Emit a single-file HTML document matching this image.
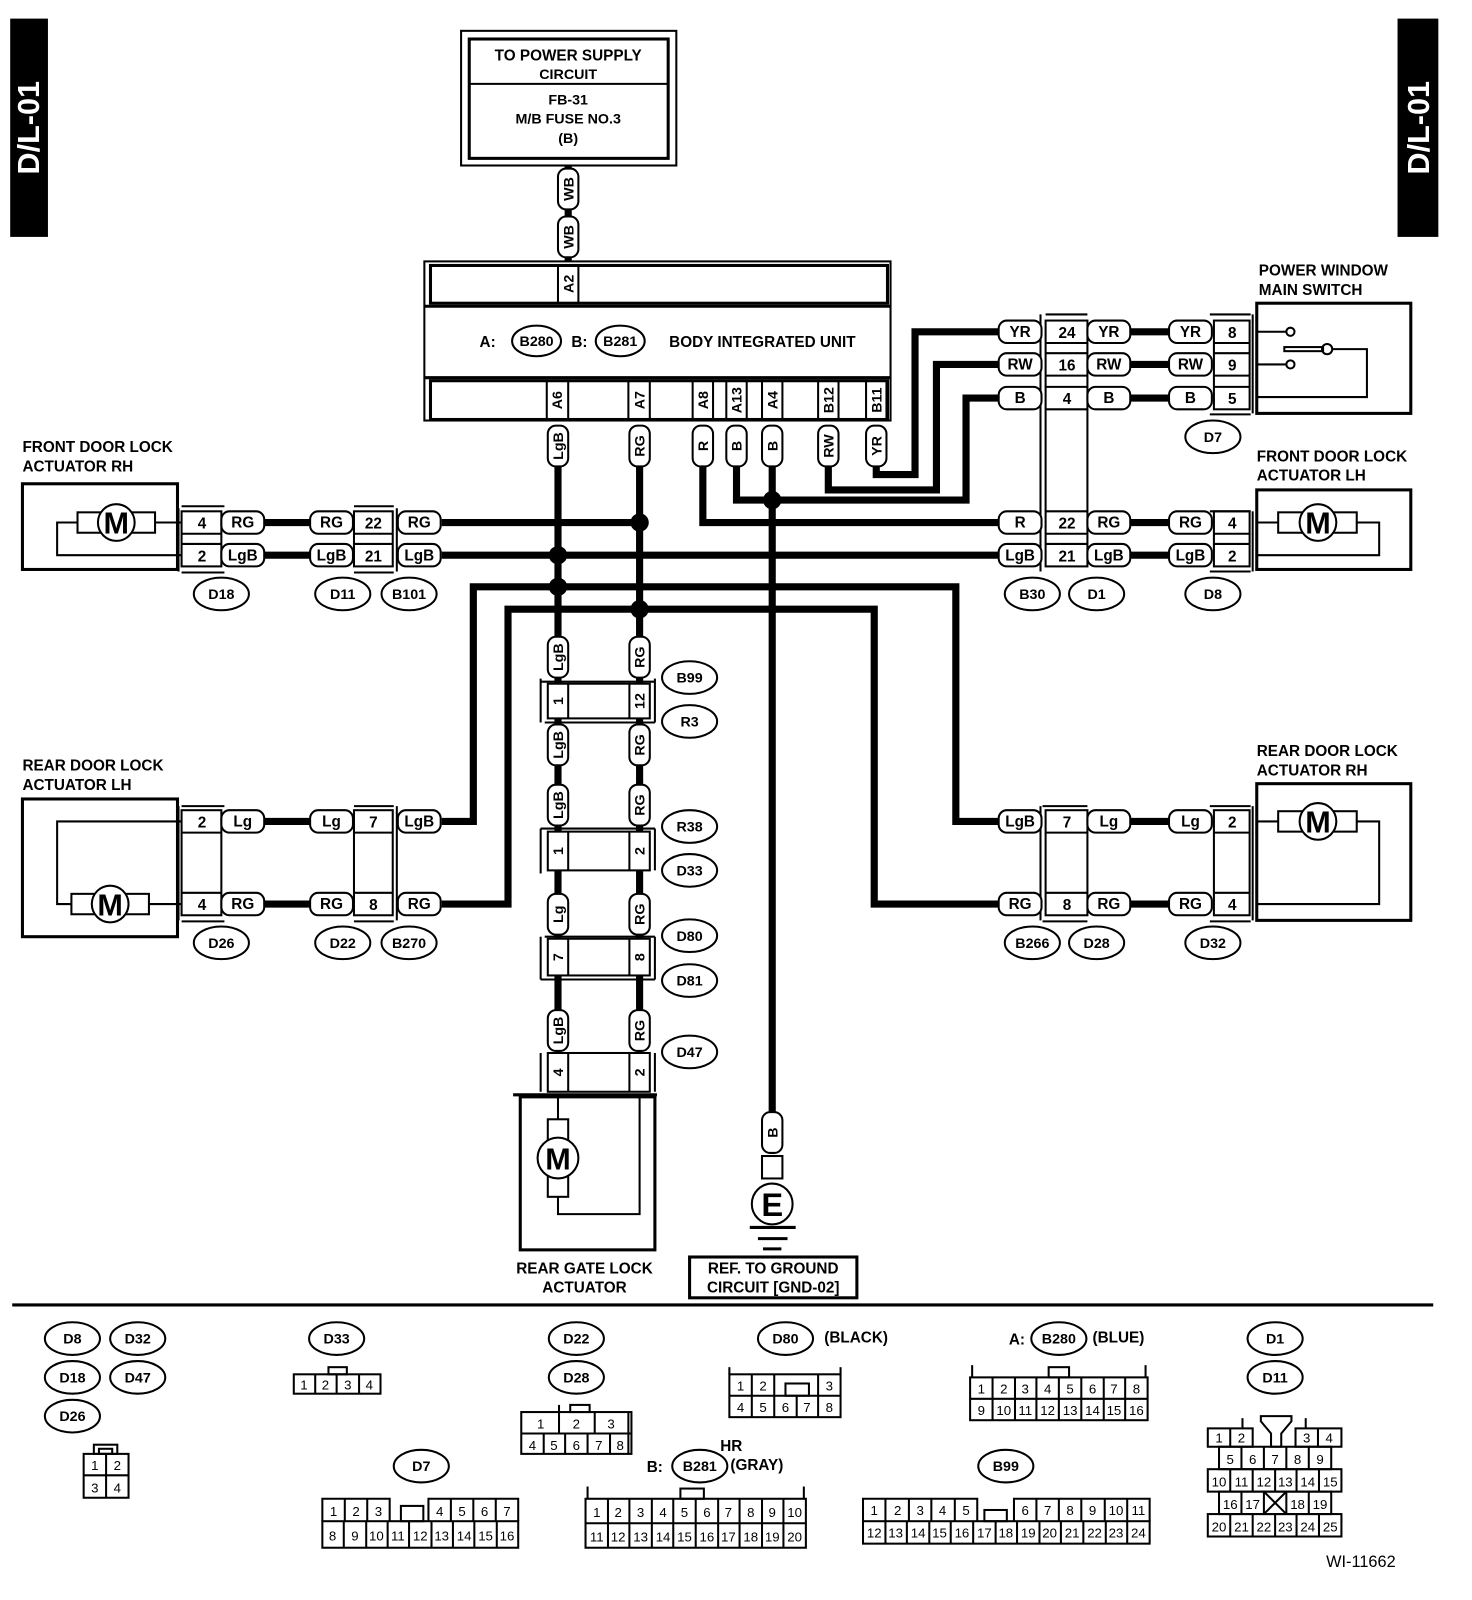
<!DOCTYPE html>
<html><head><meta charset="utf-8"><style>
html,body{margin:0;padding:0;background:#fff;}
svg{display:block}
text{font-family:"Liberation Sans",sans-serif;font-weight:bold;font-size:15px;text-anchor:middle;fill:#000}
.l{text-anchor:start}
.s{font-size:14px}
.sm{font-size:13px;font-weight:normal}
.w{stroke:#000;stroke-width:7;fill:none}
.t{stroke:#000;stroke-width:2;fill:none}
.t3{stroke:#000;stroke-width:3;fill:none}
.b{stroke:#000;stroke-width:2;fill:#fff}
</style></head><body>
<svg width="1472" height="1600" viewBox="0 0 1443 1568" xmlns="http://www.w3.org/2000/svg">
<defs>
<rect id="hp" x="-21" y="-11" width="42" height="22" rx="8" stroke="#000" stroke-width="2" fill="#fff"/>
<rect id="vp" x="-10" y="-20" width="20" height="40" rx="8" stroke="#000" stroke-width="2" fill="#fff"/>
<ellipse id="el" rx="27" ry="16" stroke="#000" stroke-width="2" fill="#fff"/>
</defs>

<!-- side tabs -->
<rect x="10" y="18" width="37" height="214" fill="#000"/>
<text transform="translate(38,125) rotate(-90)" style="fill:#fff;font-size:30px">D/L-01</text>
<rect x="1370" y="18" width="40" height="214" fill="#000"/>
<text transform="translate(1401,125) rotate(-90)" style="fill:#fff;font-size:30px">D/L-01</text>

<!-- power supply box -->
<rect x="452" y="30" width="211" height="132" class="t"/>
<rect x="460" y="38" width="195" height="117" class="t3"/>
<line x1="460" y1="82" x2="655" y2="82" class="t"/>
<text x="557" y="59">TO POWER SUPPLY</text>
<text x="557" y="77" class="s">CIRCUIT</text>
<text x="557" y="102" class="s">FB-31</text>
<text x="557" y="121" class="s">M/B FUSE NO.3</text>
<text x="557" y="140" class="s">(B)</text>
<line x1="557" y1="162" x2="557" y2="256" class="w"/>
<use href="#vp" x="557" y="185"/><text transform="translate(557,185) rotate(-90)" y="5" class="s">WB</text>
<use href="#vp" x="557" y="232"/><text transform="translate(557,232) rotate(-90)" y="5" class="s">WB</text>

<!-- body integrated unit -->
<rect x="416" y="256" width="457" height="156" class="t"/>
<rect x="422" y="260" width="448" height="37" class="t3"/>
<line x1="416" y1="300" x2="873" y2="300" class="t3"/>
<line x1="416" y1="370" x2="873" y2="370" class="t3"/>
<rect x="422" y="373" width="448" height="38" class="t3"/>
<line x1="547" y1="260" x2="547" y2="297" class="t"/><line x1="567" y1="260" x2="567" y2="297" class="t"/>
<text transform="translate(557,278) rotate(-90)" y="5" class="s">A2</text>
<text x="478" y="340">A:</text>
<ellipse cx="526" cy="334" rx="24" ry="15" class="b"/><text x="526" y="339" class="s">B280</text>
<text x="568" y="340">B:</text>
<ellipse cx="608" cy="334" rx="24" ry="15" class="b"/><text x="608" y="339" class="s">B281</text>
<text x="656" y="340" class="l">BODY INTEGRATED UNIT</text>
<g class="t">
<line x1="536" y1="373" x2="536" y2="411"/><line x1="557" y1="373" x2="557" y2="411"/>
<line x1="616" y1="373" x2="616" y2="411"/><line x1="637" y1="373" x2="637" y2="411"/>
<line x1="679" y1="373" x2="679" y2="411"/><line x1="699" y1="373" x2="699" y2="411"/>
<line x1="712" y1="373" x2="712" y2="411"/><line x1="732" y1="373" x2="732" y2="411"/>
<line x1="747" y1="373" x2="747" y2="411"/><line x1="767" y1="373" x2="767" y2="411"/>
<line x1="802" y1="373" x2="802" y2="411"/><line x1="822" y1="373" x2="822" y2="411"/>
<line x1="849" y1="373" x2="849" y2="411"/><line x1="869" y1="373" x2="869" y2="411"/>
</g>
<text transform="translate(546,392) rotate(-90)" y="5" class="s">A6</text>
<text transform="translate(627,392) rotate(-90)" y="5" class="s">A7</text>
<text transform="translate(689,392) rotate(-90)" y="5" class="s">A8</text>
<text transform="translate(722,392) rotate(-90)" y="5" class="s">A13</text>
<text transform="translate(757,392) rotate(-90)" y="5" class="s">A4</text>
<text transform="translate(812,392) rotate(-90)" y="5" class="s">B12</text>
<text transform="translate(859,392) rotate(-90)" y="5" class="s">B11</text>

<!-- thick wires -->
<g class="w">
<polyline points="547,455 547,625"/>
<polyline points="627,455 627,625"/>
<polyline points="689,455 689,512 980,512"/>
<polyline points="722,455 722,490 947,490 947,390 980,390"/>
<polyline points="757,455 757,1090"/>
<polyline points="812,455 812,480 918,480 918,357 980,357"/>
<polyline points="859,455 859,465 897,465 897,325 980,325"/>
<polyline points="433,512 627,512"/>
<polyline points="433,544 980,544"/>
<polyline points="433,805 464,805 464,575 937,575 937,805 980,805"/>
<polyline points="433,886 498,886 498,597 857,597 857,886 980,886"/>
<line x1="1107" y1="325" x2="1146" y2="325"/><line x1="1107" y1="357" x2="1146" y2="357"/><line x1="1107" y1="390" x2="1146" y2="390"/>
<line x1="1107" y1="512" x2="1146" y2="512"/><line x1="1107" y1="544" x2="1146" y2="544"/>
<line x1="1107" y1="805" x2="1146" y2="805"/><line x1="1107" y1="886" x2="1146" y2="886"/>
<line x1="259" y1="512" x2="304" y2="512"/><line x1="259" y1="544" x2="304" y2="544"/>
<line x1="259" y1="805" x2="304" y2="805"/><line x1="259" y1="886" x2="304" y2="886"/>
<line x1="547" y1="662" x2="547" y2="1030"/><line x1="627" y1="662" x2="627" y2="1030"/>
</g>
<g fill="#000">
<circle cx="547" cy="544" r="9"/><circle cx="547" cy="575" r="9"/>
<circle cx="627" cy="512" r="9"/><circle cx="627" cy="597" r="9"/>
<circle cx="757" cy="490" r="9"/>
</g>
<use href="#vp" x="547" y="437"/><text transform="translate(547,437) rotate(-90)" y="5" class="s">LgB</text>
<use href="#vp" x="627" y="437"/><text transform="translate(627,437) rotate(-90)" y="5" class="s">RG</text>
<use href="#vp" x="689" y="437"/><text transform="translate(689,437) rotate(-90)" y="5" class="s">R</text>
<use href="#vp" x="722" y="437"/><text transform="translate(722,437) rotate(-90)" y="5" class="s">B</text>
<use href="#vp" x="757" y="437"/><text transform="translate(757,437) rotate(-90)" y="5" class="s">B</text>
<use href="#vp" x="812" y="437"/><text transform="translate(812,437) rotate(-90)" y="5" class="s">RW</text>
<use href="#vp" x="859" y="437"/><text transform="translate(859,437) rotate(-90)" y="5" class="s">YR</text>

<!-- right connector B30/D1 -->
<g class="t">
<line x1="1020" y1="308" x2="1020" y2="560"/><line x1="1025" y1="308" x2="1066" y2="308"/>
<rect x="1025" y="314" width="41" height="241"/>
<line x1="1025" y1="336" x2="1066" y2="336"/><line x1="1025" y1="346" x2="1066" y2="346"/>
<line x1="1025" y1="368" x2="1066" y2="368"/><line x1="1025" y1="379" x2="1066" y2="379"/>
<line x1="1025" y1="401" x2="1066" y2="401"/><line x1="1025" y1="501" x2="1066" y2="501"/>
<line x1="1025" y1="523" x2="1066" y2="523"/><line x1="1025" y1="533" x2="1066" y2="533"/>
</g>
<text x="1046" y="331">24</text><text x="1046" y="363">16</text><text x="1046" y="396">4</text>
<text x="1046" y="518">22</text><text x="1046" y="550">21</text>
<use href="#hp" x="1000" y="325"/><text x="1000" y="330">YR</text>
<use href="#hp" x="1000" y="357"/><text x="1000" y="362">RW</text>
<use href="#hp" x="1000" y="390"/><text x="1000" y="395">B</text>
<use href="#hp" x="1000" y="512"/><text x="1000" y="517">R</text>
<use href="#hp" x="1000" y="544"/><text x="1000" y="549">LgB</text>
<use href="#hp" x="1087" y="325"/><text x="1087" y="330">YR</text>
<use href="#hp" x="1087" y="357"/><text x="1087" y="362">RW</text>
<use href="#hp" x="1087" y="390"/><text x="1087" y="395">B</text>
<use href="#hp" x="1087" y="512"/><text x="1087" y="517">RG</text>
<use href="#hp" x="1087" y="544"/><text x="1087" y="549">LgB</text>
<use href="#hp" x="1167" y="325"/><text x="1167" y="330">YR</text>
<use href="#hp" x="1167" y="357"/><text x="1167" y="362">RW</text>
<use href="#hp" x="1167" y="390"/><text x="1167" y="395">B</text>
<use href="#hp" x="1167" y="512"/><text x="1167" y="517">RG</text>
<use href="#hp" x="1167" y="544"/><text x="1167" y="549">LgB</text>
<g class="t">
<line x1="1186" y1="308" x2="1226" y2="308"/><line x1="1228" y1="308" x2="1228" y2="405"/>
<rect x="1190" y="314" width="35" height="87"/>
<line x1="1190" y1="336" x2="1225" y2="336"/><line x1="1190" y1="346" x2="1225" y2="346"/>
<line x1="1190" y1="368" x2="1225" y2="368"/><line x1="1190" y1="379" x2="1225" y2="379"/>
<line x1="1186" y1="406" x2="1226" y2="406"/>
</g>
<text x="1208" y="331">8</text><text x="1208" y="363">9</text><text x="1208" y="396">5</text>
<rect x="1232" y="297" width="151" height="108" class="t3"/>
<g class="t">
<line x1="1232" y1="325" x2="1261" y2="325"/><circle cx="1265" cy="325" r="4"/>
<line x1="1232" y1="357" x2="1261" y2="357"/><circle cx="1265" cy="357" r="4"/>
<rect x="1259" y="340" width="38" height="4" fill="#fff"/><circle cx="1301" cy="342" r="5"/>
<polyline points="1306,342 1340,342 1340,389 1232,389"/>
</g>
<text x="1234" y="270" class="l">POWER WINDOW</text>
<text x="1234" y="289" class="l">MAIN SWITCH</text>
<use href="#el" x="1189" y="428"/><text x="1189" y="433" class="s">D7</text>

<!-- front door lock LH -->
<g class="t">
<line x1="1186" y1="501" x2="1226" y2="501"/><line x1="1228" y1="501" x2="1228" y2="560"/>
<rect x="1190" y="501" width="35" height="54"/>
<line x1="1190" y1="523" x2="1225" y2="523"/><line x1="1190" y1="533" x2="1225" y2="533"/>
<line x1="1186" y1="560" x2="1226" y2="560"/>
</g>
<text x="1208" y="518">4</text><text x="1208" y="550">2</text>
<rect x="1232" y="480" width="151" height="78" class="t3"/>
<g class="t"><line x1="1232" y1="512" x2="1253" y2="512"/><polyline points="1330,512 1352,512 1352,544 1232,544"/></g>
<rect x="1253" y="502" width="77" height="20" class="b"/><circle cx="1292" cy="512" r="18" class="b"/><text x="1292" y="523" style="font-size:30px">M</text>
<text x="1232" y="452" class="l">FRONT DOOR LOCK</text>
<text x="1232" y="471" class="l">ACTUATOR LH</text>
<use href="#el" x="1012" y="582"/><text x="1012" y="587" class="s">B30</text>
<use href="#el" x="1075" y="582"/><text x="1075" y="587" class="s">D1</text>
<use href="#el" x="1189" y="582"/><text x="1189" y="587" class="s">D8</text>

<!-- front door lock RH -->
<rect x="22" y="474" width="152" height="84" class="t3"/>
<g class="t"><line x1="152" y1="512" x2="178" y2="512"/><polyline points="76,512 56,512 56,544 178,544"/></g>
<rect x="76" y="502" width="76" height="20" class="b"/><circle cx="114" cy="512" r="18" class="b"/><text x="114" y="523" style="font-size:30px">M</text>
<text x="22" y="443" class="l">FRONT DOOR LOCK</text>
<text x="22" y="462" class="l">ACTUATOR RH</text>
<g class="t">
<line x1="175" y1="498" x2="175" y2="560"/><line x1="178" y1="496" x2="220" y2="496"/><line x1="178" y1="561" x2="220" y2="561"/>
<rect x="178" y="501" width="39" height="54"/>
<line x1="178" y1="523" x2="217" y2="523"/><line x1="178" y1="533" x2="217" y2="533"/>
<line x1="347" y1="496" x2="386" y2="496"/><line x1="389" y1="498" x2="389" y2="560"/><line x1="347" y1="561" x2="386" y2="561"/>
<rect x="347" y="501" width="38" height="54"/>
<line x1="347" y1="523" x2="385" y2="523"/><line x1="347" y1="533" x2="385" y2="533"/>
</g>
<text x="198" y="518">4</text><text x="198" y="550">2</text>
<text x="366" y="518">22</text><text x="366" y="550">21</text>
<use href="#hp" x="238" y="512"/><text x="238" y="517">RG</text>
<use href="#hp" x="238" y="544"/><text x="238" y="549">LgB</text>
<use href="#hp" x="325" y="512"/><text x="325" y="517">RG</text>
<use href="#hp" x="325" y="544"/><text x="325" y="549">LgB</text>
<use href="#hp" x="411" y="512"/><text x="411" y="517">RG</text>
<use href="#hp" x="411" y="544"/><text x="411" y="549">LgB</text>
<use href="#el" x="217" y="582"/><text x="217" y="587" class="s">D18</text>
<use href="#el" x="336" y="582"/><text x="336" y="587" class="s">D11</text>
<use href="#el" x="401" y="582"/><text x="401" y="587" class="s">B101</text>

<!-- rear door lock LH -->
<rect x="22" y="783" width="152" height="135" class="t3"/>
<g class="t"><line x1="146" y1="886" x2="178" y2="886"/><polyline points="70,886 56,886 56,805 178,805"/></g>
<rect x="70" y="876" width="76" height="20" class="b"/><circle cx="108" cy="886" r="18" class="b"/><text x="108" y="897" style="font-size:30px">M</text>
<text x="22" y="755" class="l">REAR DOOR LOCK</text>
<text x="22" y="774" class="l">ACTUATOR LH</text>
<g class="t">
<line x1="175" y1="790" x2="175" y2="902"/><line x1="178" y1="790" x2="220" y2="790"/><line x1="178" y1="903" x2="220" y2="903"/>
<rect x="178" y="794" width="39" height="103"/>
<line x1="178" y1="816" x2="217" y2="816"/><line x1="178" y1="875" x2="217" y2="875"/>
<line x1="347" y1="790" x2="386" y2="790"/><line x1="389" y1="790" x2="389" y2="902"/><line x1="347" y1="903" x2="386" y2="903"/>
<rect x="347" y="794" width="38" height="103"/>
<line x1="347" y1="816" x2="385" y2="816"/><line x1="347" y1="875" x2="385" y2="875"/>
</g>
<text x="198" y="811">2</text><text x="198" y="892">4</text>
<text x="366" y="811">7</text><text x="366" y="892">8</text>
<use href="#hp" x="238" y="805"/><text x="238" y="810">Lg</text>
<use href="#hp" x="238" y="886"/><text x="238" y="891">RG</text>
<use href="#hp" x="325" y="805"/><text x="325" y="810">Lg</text>
<use href="#hp" x="325" y="886"/><text x="325" y="891">RG</text>
<use href="#hp" x="411" y="805"/><text x="411" y="810">LgB</text>
<use href="#hp" x="411" y="886"/><text x="411" y="891">RG</text>
<use href="#el" x="217" y="924"/><text x="217" y="929" class="s">D26</text>
<use href="#el" x="336" y="924"/><text x="336" y="929" class="s">D22</text>
<use href="#el" x="401" y="924"/><text x="401" y="929" class="s">B270</text>

<!-- rear door lock RH -->
<g class="t">
<line x1="1020" y1="790" x2="1020" y2="902"/><line x1="1022" y1="790" x2="1066" y2="790"/><line x1="1022" y1="903" x2="1066" y2="903"/>
<rect x="1025" y="794" width="41" height="103"/>
<line x1="1025" y1="816" x2="1066" y2="816"/><line x1="1025" y1="875" x2="1066" y2="875"/>
<line x1="1186" y1="790" x2="1226" y2="790"/><line x1="1228" y1="790" x2="1228" y2="902"/><line x1="1186" y1="903" x2="1226" y2="903"/>
<rect x="1190" y="794" width="35" height="103"/>
<line x1="1190" y1="816" x2="1225" y2="816"/><line x1="1190" y1="875" x2="1225" y2="875"/>
</g>
<text x="1046" y="811">7</text><text x="1046" y="892">8</text>
<text x="1208" y="811">2</text><text x="1208" y="892">4</text>
<use href="#hp" x="1000" y="805"/><text x="1000" y="810">LgB</text>
<use href="#hp" x="1000" y="886"/><text x="1000" y="891">RG</text>
<use href="#hp" x="1087" y="805"/><text x="1087" y="810">Lg</text>
<use href="#hp" x="1087" y="886"/><text x="1087" y="891">RG</text>
<use href="#hp" x="1167" y="805"/><text x="1167" y="810">Lg</text>
<use href="#hp" x="1167" y="886"/><text x="1167" y="891">RG</text>
<rect x="1232" y="768" width="151" height="134" class="t3"/>
<g class="t"><line x1="1232" y1="805" x2="1253" y2="805"/><polyline points="1330,805 1352,805 1352,886 1232,886"/></g>
<rect x="1253" y="795" width="77" height="20" class="b"/><circle cx="1292" cy="805" r="18" class="b"/><text x="1292" y="816" style="font-size:30px">M</text>
<text x="1232" y="741" class="l">REAR DOOR LOCK</text>
<text x="1232" y="760" class="l">ACTUATOR RH</text>
<use href="#el" x="1012" y="924"/><text x="1012" y="929" class="s">B266</text>
<use href="#el" x="1075" y="924"/><text x="1075" y="929" class="s">D28</text>
<use href="#el" x="1189" y="924"/><text x="1189" y="929" class="s">D32</text>

<!-- central column connectors -->
<g class="t">
<line x1="530" y1="665" x2="530" y2="708"/><line x1="530" y1="668" x2="642" y2="668"/><line x1="534" y1="708" x2="642" y2="708"/><line x1="642" y1="665" x2="642" y2="708"/>
<rect x="537" y="670" width="100" height="34" fill="#fff"/><line x1="557" y1="670" x2="557" y2="704"/><line x1="617" y1="670" x2="617" y2="704"/>
<line x1="530" y1="812" x2="642" y2="812"/><line x1="642" y1="812" x2="642" y2="853"/><line x1="530" y1="812" x2="530" y2="856"/>
<rect x="537" y="815" width="100" height="38" fill="#fff"/><line x1="557" y1="815" x2="557" y2="853"/><line x1="617" y1="815" x2="617" y2="853"/>
<line x1="530" y1="918" x2="530" y2="960"/><line x1="530" y1="960" x2="642" y2="960"/><line x1="642" y1="918" x2="642" y2="960"/><line x1="534" y1="918" x2="642" y2="918"/>
<rect x="537" y="920" width="100" height="36" fill="#fff"/><line x1="557" y1="920" x2="557" y2="956"/><line x1="617" y1="920" x2="617" y2="956"/>
<line x1="530" y1="1032" x2="530" y2="1070"/><line x1="642" y1="1032" x2="642" y2="1070"/>
<rect x="537" y="1032" width="100" height="38" fill="#fff"/><line x1="557" y1="1032" x2="557" y2="1070"/><line x1="617" y1="1032" x2="617" y2="1070"/>
</g>
<text transform="translate(547,687) rotate(-90)" y="5" class="s">1</text>
<text transform="translate(627,687) rotate(-90)" y="5" class="s">12</text>
<text transform="translate(547,834) rotate(-90)" y="5" class="s">1</text>
<text transform="translate(627,834) rotate(-90)" y="5" class="s">2</text>
<text transform="translate(547,938) rotate(-90)" y="5" class="s">7</text>
<text transform="translate(627,938) rotate(-90)" y="5" class="s">8</text>
<text transform="translate(547,1051) rotate(-90)" y="5" class="s">4</text>
<text transform="translate(627,1051) rotate(-90)" y="5" class="s">2</text>
<use href="#vp" x="547" y="644"/><text transform="translate(547,644) rotate(-90)" y="5" class="s">LgB</text>
<use href="#vp" x="627" y="644"/><text transform="translate(627,644) rotate(-90)" y="5" class="s">RG</text>
<use href="#vp" x="547" y="730"/><text transform="translate(547,730) rotate(-90)" y="5" class="s">LgB</text>
<use href="#vp" x="627" y="730"/><text transform="translate(627,730) rotate(-90)" y="5" class="s">RG</text>
<use href="#vp" x="547" y="789"/><text transform="translate(547,789) rotate(-90)" y="5" class="s">LgB</text>
<use href="#vp" x="627" y="789"/><text transform="translate(627,789) rotate(-90)" y="5" class="s">RG</text>
<use href="#vp" x="547" y="896"/><text transform="translate(547,896) rotate(-90)" y="5" class="s">Lg</text>
<use href="#vp" x="627" y="896"/><text transform="translate(627,896) rotate(-90)" y="5" class="s">RG</text>
<use href="#vp" x="547" y="1010"/><text transform="translate(547,1010) rotate(-90)" y="5" class="s">LgB</text>
<use href="#vp" x="627" y="1010"/><text transform="translate(627,1010) rotate(-90)" y="5" class="s">RG</text>
<use href="#el" x="676" y="664"/><text x="676" y="669" class="s">B99</text>
<use href="#el" x="676" y="707"/><text x="676" y="712" class="s">R3</text>
<use href="#el" x="676" y="810"/><text x="676" y="815" class="s">R38</text>
<use href="#el" x="676" y="853"/><text x="676" y="858" class="s">D33</text>
<use href="#el" x="676" y="917"/><text x="676" y="922" class="s">D80</text>
<use href="#el" x="676" y="961"/><text x="676" y="966" class="s">D81</text>
<use href="#el" x="676" y="1031"/><text x="676" y="1036" class="s">D47</text>

<!-- rear gate -->
<rect x="510" y="1075" width="132" height="150" class="t3"/>
<line x1="503" y1="1073" x2="644" y2="1073" class="t3"/>
<g class="t"><line x1="547" y1="1075" x2="547" y2="1097"/><polyline points="547,1173 547,1190 627,1190 627,1075"/></g>
<rect x="537" y="1097" width="20" height="76" class="b"/><circle cx="547" cy="1135" r="20" class="b"/><text x="547" y="1146" style="font-size:30px">M</text>
<text x="573" y="1248">REAR GATE LOCK</text>
<text x="573" y="1267">ACTUATOR</text>

<!-- ground -->
<use href="#vp" x="757" y="1110"/><text transform="translate(757,1110) rotate(-90)" y="5" class="s">B</text>
<rect x="747" y="1133" width="20" height="22" class="t"/>
<circle cx="757" cy="1180" r="20" class="t"/><text x="757" y="1192" style="font-size:32px">E</text>
<g class="t3"><line x1="735" y1="1203" x2="780" y2="1203"/><line x1="743" y1="1214" x2="772" y2="1214"/><line x1="748" y1="1224" x2="766" y2="1224"/></g>
<rect x="676" y="1232" width="164" height="40" class="t3"/>
<text x="758" y="1248">REF. TO GROUND</text>
<text x="758" y="1267">CIRCUIT [GND-02]</text>

<line x1="12" y1="1279" x2="1405" y2="1279" stroke="#000" stroke-width="3"/>

<!-- legend ellipses -->
<use href="#el" x="71" y="1312"/><text x="71" y="1317" class="s">D8</text>
<use href="#el" x="135" y="1312"/><text x="135" y="1317" class="s">D32</text>
<use href="#el" x="71" y="1350"/><text x="71" y="1355" class="s">D18</text>
<use href="#el" x="135" y="1350"/><text x="135" y="1355" class="s">D47</text>
<use href="#el" x="71" y="1388"/><text x="71" y="1393" class="s">D26</text>
<use href="#el" x="330" y="1312"/><text x="330" y="1317" class="s">D33</text>
<use href="#el" x="565" y="1312"/><text x="565" y="1317" class="s">D22</text>
<use href="#el" x="565" y="1350"/><text x="565" y="1355" class="s">D28</text>
<use href="#el" x="770" y="1312"/><text x="770" y="1317" class="s">D80</text>
<text x="808" y="1316" class="l">(BLACK)</text>
<text x="989" y="1318" class="l">A:</text>
<use href="#el" x="1038" y="1312"/><text x="1038" y="1317" class="s">B280</text>
<text x="1071" y="1316" class="l">(BLUE)</text>
<use href="#el" x="1250" y="1312"/><text x="1250" y="1317" class="s">D1</text>
<use href="#el" x="1250" y="1350"/><text x="1250" y="1355" class="s">D11</text>
<use href="#el" x="413" y="1437"/><text x="413" y="1442" class="s">D7</text>
<text x="634" y="1443" class="l">B:</text>
<use href="#el" x="686" y="1437"/><text x="686" y="1442" class="s">B281</text>
<text x="706" y="1422" class="l">HR</text>
<text x="716" y="1441" class="l">(GRAY)</text>
<use href="#el" x="986" y="1437"/><text x="986" y="1442" class="s">B99</text>
<text x="1300" y="1536" class="l sm" style="font-size:16px">WI-11662</text>

<!-- legend connectors -->
<g class="t">
<rect x="82" y="1425" width="44" height="43"/><line x1="104" y1="1425" x2="104" y2="1468"/><line x1="82" y1="1446" x2="126" y2="1446"/>
<rect x="92" y="1416" width="23" height="9"/><rect x="97" y="1420" width="13" height="5"/>
<rect x="288" y="1347" width="85" height="19"/><line x1="309" y1="1347" x2="309" y2="1366"/><line x1="330" y1="1347" x2="330" y2="1366"/><line x1="352" y1="1347" x2="352" y2="1366"/>
<rect x="322" y="1340" width="18" height="7"/>
<rect x="511" y="1384" width="108" height="41"/><line x1="511" y1="1405" x2="619" y2="1405"/>
<line x1="548" y1="1384" x2="548" y2="1405"/><line x1="583" y1="1384" x2="583" y2="1405"/>
<line x1="533" y1="1405" x2="533" y2="1425"/><line x1="554" y1="1405" x2="554" y2="1425"/><line x1="576" y1="1405" x2="576" y2="1425"/><line x1="598" y1="1405" x2="598" y2="1425"/>
<rect x="559" y="1377" width="19" height="7"/><line x1="548" y1="1377" x2="548" y2="1384"/><line x1="616" y1="1384" x2="616" y2="1425"/>
<rect x="715" y="1347" width="109" height="42"/><line x1="715" y1="1368" x2="824" y2="1368"/>
<line x1="737" y1="1347" x2="737" y2="1389"/><line x1="759" y1="1347" x2="759" y2="1389"/><line x1="781" y1="1368" x2="781" y2="1389"/><line x1="802" y1="1347" x2="802" y2="1389"/>
<rect x="770" y="1356" width="23" height="12"/><line x1="715" y1="1340" x2="715" y2="1347"/><line x1="824" y1="1340" x2="824" y2="1347"/>
<rect x="951" y="1350" width="174" height="42"/><line x1="951" y1="1371" x2="1125" y2="1371"/>
<line x1="973" y1="1350" x2="973" y2="1392"/><line x1="995" y1="1350" x2="995" y2="1392"/><line x1="1016" y1="1350" x2="1016" y2="1392"/><line x1="1038" y1="1350" x2="1038" y2="1392"/><line x1="1060" y1="1350" x2="1060" y2="1392"/><line x1="1082" y1="1350" x2="1082" y2="1392"/><line x1="1103" y1="1350" x2="1103" y2="1392"/>
<rect x="1028" y="1340" width="20" height="10"/><line x1="953" y1="1338" x2="953" y2="1350"/><line x1="1123" y1="1338" x2="1123" y2="1350"/>
<polyline points="316,1491 316,1469 382,1469 382,1491"/><polyline points="420,1491 420,1469 508,1469 508,1491"/>
<rect x="316" y="1491" width="192" height="26"/>
<line x1="338" y1="1469" x2="338" y2="1491"/><line x1="360" y1="1469" x2="360" y2="1491"/><line x1="442" y1="1469" x2="442" y2="1491"/><line x1="464" y1="1469" x2="464" y2="1491"/><line x1="486" y1="1469" x2="486" y2="1491"/>
<rect x="393" y="1476" width="22" height="15"/>
<line x1="337" y1="1491" x2="337" y2="1517"/><line x1="359" y1="1491" x2="359" y2="1517"/><line x1="380" y1="1491" x2="380" y2="1517"/><line x1="401" y1="1491" x2="401" y2="1517"/><line x1="423" y1="1491" x2="423" y2="1517"/><line x1="444" y1="1491" x2="444" y2="1517"/><line x1="465" y1="1491" x2="465" y2="1517"/><line x1="487" y1="1491" x2="487" y2="1517"/>
<rect x="574" y="1469" width="216" height="48"/><line x1="574" y1="1493" x2="790" y2="1493"/>
<line x1="596" y1="1469" x2="596" y2="1517"/><line x1="617" y1="1469" x2="617" y2="1517"/><line x1="639" y1="1469" x2="639" y2="1517"/><line x1="660" y1="1469" x2="660" y2="1517"/><line x1="682" y1="1469" x2="682" y2="1517"/><line x1="704" y1="1469" x2="704" y2="1517"/><line x1="725" y1="1469" x2="725" y2="1517"/><line x1="747" y1="1469" x2="747" y2="1517"/><line x1="768" y1="1469" x2="768" y2="1517"/>
<rect x="667" y="1459" width="23" height="10"/><line x1="576" y1="1457" x2="576" y2="1469"/><line x1="788" y1="1457" x2="788" y2="1469"/>
<polyline points="846,1491 846,1469 958,1469 958,1491"/><polyline points="994,1491 994,1469 1127,1469 1127,1491"/>
<rect x="846" y="1491" width="281" height="22"/>
<line x1="868" y1="1469" x2="868" y2="1491"/><line x1="891" y1="1469" x2="891" y2="1491"/><line x1="913" y1="1469" x2="913" y2="1491"/><line x1="936" y1="1469" x2="936" y2="1491"/>
<line x1="1016" y1="1469" x2="1016" y2="1491"/><line x1="1038" y1="1469" x2="1038" y2="1491"/><line x1="1060" y1="1469" x2="1060" y2="1491"/><line x1="1083" y1="1469" x2="1083" y2="1491"/><line x1="1105" y1="1469" x2="1105" y2="1491"/>
<rect x="965" y="1480" width="22" height="11"/>
<line x1="868" y1="1491" x2="868" y2="1513"/><line x1="889" y1="1491" x2="889" y2="1513"/><line x1="911" y1="1491" x2="911" y2="1513"/><line x1="932" y1="1491" x2="932" y2="1513"/><line x1="954" y1="1491" x2="954" y2="1513"/><line x1="976" y1="1491" x2="976" y2="1513"/><line x1="997" y1="1491" x2="997" y2="1513"/><line x1="1019" y1="1491" x2="1019" y2="1513"/><line x1="1040" y1="1491" x2="1040" y2="1513"/><line x1="1062" y1="1491" x2="1062" y2="1513"/><line x1="1084" y1="1491" x2="1084" y2="1513"/><line x1="1105" y1="1491" x2="1105" y2="1513"/>
<rect x="1184" y="1400" width="44" height="18"/><line x1="1206" y1="1400" x2="1206" y2="1418"/>
<rect x="1270" y="1400" width="45" height="18"/><line x1="1292" y1="1400" x2="1292" y2="1418"/>
<polygon points="1236,1388 1266,1388 1266,1393 1256,1405 1256,1418 1246,1418 1246,1405 1236,1393"/>
<rect x="1195" y="1418" width="110" height="22"/><line x1="1217" y1="1418" x2="1217" y2="1440"/><line x1="1239" y1="1418" x2="1239" y2="1440"/><line x1="1261" y1="1418" x2="1261" y2="1440"/><line x1="1283" y1="1418" x2="1283" y2="1440"/>
<rect x="1184" y="1440" width="131" height="22"/><line x1="1206" y1="1440" x2="1206" y2="1462"/><line x1="1228" y1="1440" x2="1228" y2="1462"/><line x1="1250" y1="1440" x2="1250" y2="1462"/><line x1="1271" y1="1440" x2="1271" y2="1462"/><line x1="1293" y1="1440" x2="1293" y2="1462"/>
<rect x="1195" y="1462" width="110" height="22"/><line x1="1217" y1="1462" x2="1217" y2="1484"/><line x1="1239" y1="1462" x2="1239" y2="1484"/><line x1="1261" y1="1462" x2="1261" y2="1484"/><line x1="1283" y1="1462" x2="1283" y2="1484"/>
<line x1="1239" y1="1462" x2="1261" y2="1484"/><line x1="1261" y1="1462" x2="1239" y2="1484"/>
<rect x="1184" y="1484" width="131" height="22"/><line x1="1206" y1="1484" x2="1206" y2="1506"/><line x1="1228" y1="1484" x2="1228" y2="1506"/><line x1="1250" y1="1484" x2="1250" y2="1506"/><line x1="1271" y1="1484" x2="1271" y2="1506"/><line x1="1293" y1="1484" x2="1293" y2="1506"/>
<line x1="1218" y1="1390" x2="1218" y2="1400"/><line x1="1280" y1="1390" x2="1280" y2="1400"/>
</g>
<g class="sm">
<text x="93" y="1441" class="sm">1</text><text x="115" y="1441" class="sm">2</text><text x="93" y="1463" class="sm">3</text><text x="115" y="1463" class="sm">4</text>
<text x="298" y="1362" class="sm">1</text><text x="319" y="1362" class="sm">2</text><text x="341" y="1362" class="sm">3</text><text x="362" y="1362" class="sm">4</text>
<text x="530" y="1400" class="sm">1</text><text x="565" y="1400" class="sm">2</text><text x="599" y="1400" class="sm">3</text>
<text x="522" y="1421" class="sm">4</text><text x="543" y="1421" class="sm">5</text><text x="565" y="1421" class="sm">6</text><text x="587" y="1421" class="sm">7</text><text x="608" y="1421" class="sm">8</text>
<text x="726" y="1363" class="sm">1</text><text x="748" y="1363" class="sm">2</text><text x="813" y="1363" class="sm">3</text>
<text x="726" y="1384" class="sm">4</text><text x="748" y="1384" class="sm">5</text><text x="770" y="1384" class="sm">6</text><text x="791" y="1384" class="sm">7</text><text x="813" y="1384" class="sm">8</text>
<text x="962" y="1366" class="sm">1</text><text x="984" y="1366" class="sm">2</text><text x="1005" y="1366" class="sm">3</text><text x="1027" y="1366" class="sm">4</text><text x="1049" y="1366" class="sm">5</text><text x="1071" y="1366" class="sm">6</text><text x="1092" y="1366" class="sm">7</text><text x="1114" y="1366" class="sm">8</text>
<text x="962" y="1387" class="sm">9</text><text x="984" y="1387" class="sm">10</text><text x="1005" y="1387" class="sm">11</text><text x="1027" y="1387" class="sm">12</text><text x="1049" y="1387" class="sm">13</text><text x="1071" y="1387" class="sm">14</text><text x="1092" y="1387" class="sm">15</text><text x="1114" y="1387" class="sm">16</text>
<text x="327" y="1486" class="sm">1</text><text x="349" y="1486" class="sm">2</text><text x="371" y="1486" class="sm">3</text><text x="431" y="1486" class="sm">4</text><text x="453" y="1486" class="sm">5</text><text x="475" y="1486" class="sm">6</text><text x="497" y="1486" class="sm">7</text>
<text x="326" y="1510" class="sm">8</text><text x="348" y="1510" class="sm">9</text><text x="369" y="1510" class="sm">10</text><text x="390" y="1510" class="sm">11</text><text x="412" y="1510" class="sm">12</text><text x="433" y="1510" class="sm">13</text><text x="455" y="1510" class="sm">14</text><text x="476" y="1510" class="sm">15</text><text x="497" y="1510" class="sm">16</text>
<text x="585" y="1487" class="sm">1</text><text x="606" y="1487" class="sm">2</text><text x="628" y="1487" class="sm">3</text><text x="650" y="1487" class="sm">4</text><text x="671" y="1487" class="sm">5</text><text x="693" y="1487" class="sm">6</text><text x="714" y="1487" class="sm">7</text><text x="736" y="1487" class="sm">8</text><text x="757" y="1487" class="sm">9</text><text x="779" y="1487" class="sm">10</text>
<text x="585" y="1511" class="sm">11</text><text x="606" y="1511" class="sm">12</text><text x="628" y="1511" class="sm">13</text><text x="650" y="1511" class="sm">14</text><text x="671" y="1511" class="sm">15</text><text x="693" y="1511" class="sm">16</text><text x="714" y="1511" class="sm">17</text><text x="736" y="1511" class="sm">18</text><text x="757" y="1511" class="sm">19</text><text x="779" y="1511" class="sm">20</text>
<text x="857" y="1485" class="sm">1</text><text x="880" y="1485" class="sm">2</text><text x="902" y="1485" class="sm">3</text><text x="924" y="1485" class="sm">4</text><text x="947" y="1485" class="sm">5</text>
<text x="1005" y="1485" class="sm">6</text><text x="1027" y="1485" class="sm">7</text><text x="1049" y="1485" class="sm">8</text><text x="1071" y="1485" class="sm">9</text><text x="1094" y="1485" class="sm">10</text><text x="1116" y="1485" class="sm">11</text>
<text x="857" y="1507" class="sm">12</text><text x="878" y="1507" class="sm">13</text><text x="900" y="1507" class="sm">14</text><text x="921" y="1507" class="sm">15</text><text x="943" y="1507" class="sm">16</text><text x="965" y="1507" class="sm">17</text><text x="986" y="1507" class="sm">18</text><text x="1008" y="1507" class="sm">19</text><text x="1029" y="1507" class="sm">20</text><text x="1051" y="1507" class="sm">21</text><text x="1073" y="1507" class="sm">22</text><text x="1094" y="1507" class="sm">23</text><text x="1116" y="1507" class="sm">24</text>
<text x="1195" y="1414" class="sm">1</text><text x="1217" y="1414" class="sm">2</text><text x="1281" y="1414" class="sm">3</text><text x="1303" y="1414" class="sm">4</text>
<text x="1206" y="1435" class="sm">5</text><text x="1228" y="1435" class="sm">6</text><text x="1250" y="1435" class="sm">7</text><text x="1272" y="1435" class="sm">8</text><text x="1294" y="1435" class="sm">9</text>
<text x="1195" y="1457" class="sm">10</text><text x="1217" y="1457" class="sm">11</text><text x="1239" y="1457" class="sm">12</text><text x="1260" y="1457" class="sm">13</text><text x="1282" y="1457" class="sm">14</text><text x="1304" y="1457" class="sm">15</text>
<text x="1206" y="1479" class="sm">16</text><text x="1228" y="1479" class="sm">17</text><text x="1272" y="1479" class="sm">18</text><text x="1294" y="1479" class="sm">19</text>
<text x="1195" y="1501" class="sm">20</text><text x="1217" y="1501" class="sm">21</text><text x="1239" y="1501" class="sm">22</text><text x="1260" y="1501" class="sm">23</text><text x="1282" y="1501" class="sm">24</text><text x="1304" y="1501" class="sm">25</text>
</g>
</svg>
</body></html>
